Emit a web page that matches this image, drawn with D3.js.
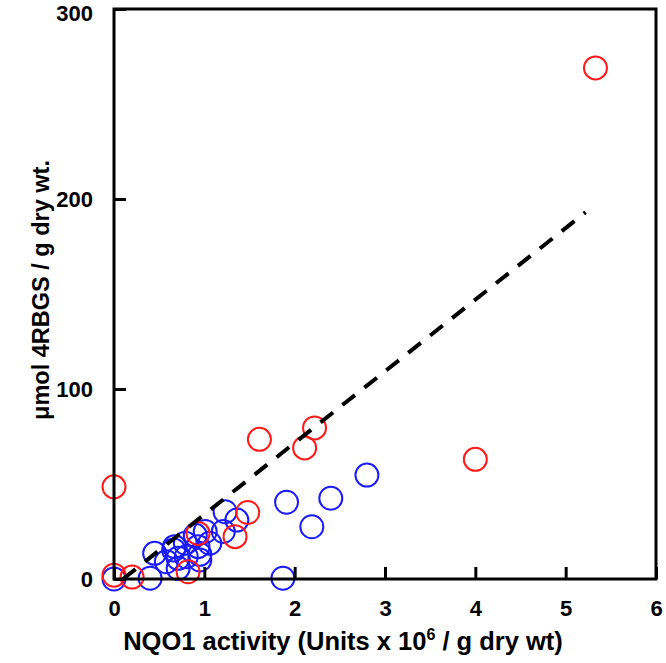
<!DOCTYPE html>
<html>
<head>
<meta charset="utf-8">
<script src="https://cdn.jsdelivr.net/npm/d3@7"></script>
<style>
  html, body { margin: 0; padding: 0; background: #fff; }
  svg { display: block; }
  text { font-family: "Liberation Sans", Arial, sans-serif; font-weight: bold; }
</style>
</head>
<body>
<svg id="chart" width="666" height="663"></svg>
<script>
// ---- data ----
const xTicks = [0, 1, 2, 3, 4, 5, 6];
const yTicks = [0, 100, 200, 300];
const redX = [5.33, 4.00, 2.22, 2.11, 1.61, 0.00, 1.48, 1.34, 0.93, 0.82, 0.00, 0.20];
const redY = [269, 63, 79.5, 69, 73.5, 48.5, 35, 22.3, 24, 3.8, 2, 1];
const blueX = [2.80, 2.40, 1.91, 2.19, 1.87, 1.23, 1.36, 1.21, 1.01, 0.90, 1.06, 0.93, 0.79, 0.66, 0.45, 0.58, 0.71, 0.80, 0.95, 0.71, 0.40, 0.00, 0.67, 0.95];
const blueY = [54.7, 42.5, 40.4, 27.5, 0.4, 35.4, 31, 25, 25, 23, 18.8, 17, 18.8, 15.3, 13.5, 9.1, 10.9, 11.7, 10, 5.6, 0.4, 0, 17, 13];
const fitX = [0.1, 5.22];
const fitY = [0, 193];
const xTitle = "NQO1 activity (Units x 10";
const xTitleSup = "6";
const xTitleEnd = " / g dry wt)";
const yTitle = "μmol 4RBGS / g dry wt.";

// ---- layout ----
const svg = d3.select("#chart");
const pL = 114, pR = 656, pT = 9, pB = 579;
const x = d3.scaleLinear().domain([0, 6]).range([pL, pR]);
const y = d3.scaleLinear().domain([0, 300]).range([pB, pT]);

const redPts = redX.map((v, i) => [v, redY[i]]);
const bluePts = blueX.map((v, i) => [v, blueY[i]]);

// circles
svg.append("g").selectAll("circle").data(bluePts).join("circle")
  .attr("cx", d => x(d[0])).attr("cy", d => y(d[1])).attr("r", 11.5)
  .attr("fill", "none").attr("stroke", "#1a1aff").attr("stroke-width", 2);
svg.append("g").selectAll("circle").data(redPts).join("circle")
  .attr("cx", d => x(d[0])).attr("cy", d => y(d[1])).attr("r", 11.5)
  .attr("fill", "none").attr("stroke", "#ff1a1a").attr("stroke-width", 2);

// dashed fit line
svg.append("path")
  .datum(fitX.map((v, i) => [v, fitY[i]]))
  .attr("d", d3.line().x(d => x(d[0])).y(d => y(d[1])))
  .attr("fill", "none").attr("stroke", "#000").attr("stroke-width", 4)
  .attr("stroke-dasharray", "16,12");

// frame
svg.append("rect").attr("x", pL).attr("y", pT)
  .attr("width", pR - pL).attr("height", pB - pT)
  .attr("fill", "none").attr("stroke", "#000").attr("stroke-width", 3);

// axes
const xAxis = d3.axisBottom(x).tickValues(xTicks).tickFormat(d3.format("d"))
  .tickSizeInner(-12).tickSizeOuter(0).tickPadding(21);
const gx = svg.append("g").attr("transform", `translate(0,${pB})`).call(xAxis);
const yAxis = d3.axisLeft(y).tickValues(yTicks).tickFormat(d3.format("d"))
  .tickSizeInner(-12).tickSizeOuter(0).tickPadding(21);
const gy = svg.append("g").attr("transform", `translate(${pL},0)`).call(yAxis);
[gx, gy].forEach(g => {
  g.select(".domain").remove();
  g.selectAll(".tick line").attr("stroke", "#000").attr("stroke-width", 3);
  g.selectAll(".tick text").attr("fill", "#000").style("font-size", "22px")
    .style("font-family", "Liberation Sans, Arial, sans-serif").style("font-weight", "bold");
});
// keep the top label inside the page
gy.selectAll(".tick text").filter(d => d === 300).attr("dy", "0.5em");

// titles
const xt = svg.append("text").attr("x", 343).attr("y", 650)
  .attr("text-anchor", "middle").style("font-size", "25.5px").attr("fill", "#000");
xt.append("tspan").text(xTitle);
xt.append("tspan").text(xTitleSup).style("font-size", "16px").attr("dy", -10);
xt.append("tspan").text(xTitleEnd).attr("dy", 10);

svg.append("text")
  .attr("transform", `translate(49,290) rotate(-90)`)
  .attr("text-anchor", "middle").style("font-size", "23.5px").attr("fill", "#000")
  .text(yTitle);
</script>
</body>
</html>
